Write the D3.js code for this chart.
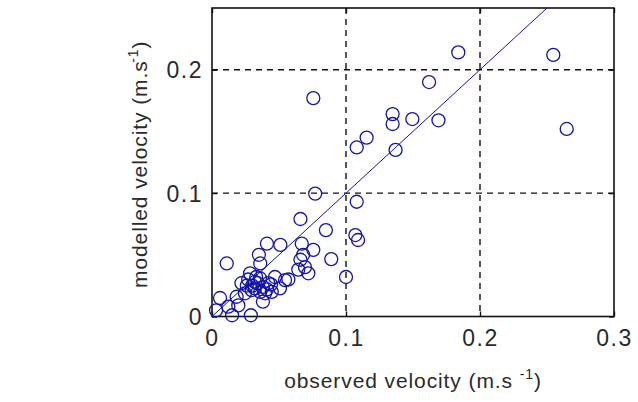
<!DOCTYPE html>
<html>
<head>
    <title>Observed vs modelled velocity</title>
    <script src="https://d3js.org/d3.v7.min.js"></script>
    <style>
        body {
            margin: 0;
            background-color: white;
        }
        svg text {
            font-family: "Liberation Sans", Arial, sans-serif;
            fill: #2a2a2a;
        }
    </style>
</head>
<body>
    <div id="chart"></div>
    <script>
        // observed (x) and modelled (y) velocities, m/s
        const observed = [
            0.0756, 0.077, 0.108, 0.1154, 0.1348, 0.1348, 0.137, 0.1838, 0.2547, 0.162,
            0.1495, 0.169, 0.2647,
            0.108, 0.066, 0.085, 0.107, 0.109, 0.089, 0.100, 0.067, 0.0756, 0.068,
            0.066, 0.0694, 0.0719, 0.0644, 0.057,
            0.011, 0.041, 0.051, 0.035, 0.036, 0.006, 0.015, 0.029, 0.003,
            0.0545, 0.047, 0.042, 0.0507, 0.0358, 0.0284, 0.032, 0.022, 0.0246, 0.0184,
            0.0396, 0.0296, 0.0446, 0.032, 0.026, 0.038, 0.0196, 0.0122,
            0.030, 0.034, 0.038, 0.027, 0.041, 0.044, 0.036, 0.033
        ];
        const modelled = [
            0.177, 0.0996, 0.137, 0.145, 0.164, 0.156, 0.135, 0.214, 0.212, 0.190,
            0.160, 0.159, 0.152,
            0.093, 0.079, 0.070, 0.066, 0.062, 0.0465, 0.032, 0.059, 0.054, 0.050,
            0.046, 0.040, 0.035, 0.038, 0.030,
            0.043, 0.059, 0.058, 0.050, 0.043, 0.015, 0.001, 0.001, 0.005,
            0.0295, 0.032, 0.027, 0.0228, 0.031, 0.035, 0.0228, 0.027, 0.0188, 0.016,
            0.0188, 0.0214, 0.020, 0.028, 0.025, 0.012, 0.009, 0.008,
            0.025, 0.027, 0.024, 0.030, 0.022, 0.026, 0.020, 0.032
        ];
        // fitted line y = slope * x + intercept
        const fitSlope = 1.0;
        const fitIntercept = 0;
        const fitRange = [0, 0.25];

        const xTicks = [0, 0.1, 0.2, 0.3];
        const yTicks = [0, 0.1, 0.2];
        const xTitle = "observed velocity (m.s ";
        const yTitle = "modelled velocity (m.s ";

        const width = 638, height = 402;
        const pLeft = 212, pRight = 614, pTop = 8, pBottom = 316.5;

        const svg = d3.select("#chart")
            .append("svg")
            .attr("width", width)
            .attr("height", height);

        const x = d3.scaleLinear().domain([0, 0.3]).range([pLeft, pRight]);
        const y = d3.scaleLinear().domain([0, 0.25]).range([pBottom, pTop]);

        svg.append("defs").append("clipPath").attr("id", "plot")
            .append("rect")
            .attr("x", pLeft).attr("y", pTop)
            .attr("width", pRight - pLeft).attr("height", pBottom - pTop);

        // dashed grid
        const grid = svg.append("g")
            .attr("stroke", "#111")
            .attr("stroke-width", 1.4)
            .attr("stroke-dasharray", "6,5");
        grid.selectAll(".gx")
            .data(xTicks.filter(d => d > 0 && d < 0.3))
            .enter().append("line")
            .attr("x1", d => x(d)).attr("x2", d => x(d))
            .attr("y1", pTop).attr("y2", pBottom);
        grid.selectAll(".gy")
            .data(yTicks.filter(d => d > 0))
            .enter().append("line")
            .attr("y1", d => y(d)).attr("y2", d => y(d))
            .attr("x1", pLeft).attr("x2", pRight);

        // axes with inward ticks
        const xAxis = svg.append("g")
            .attr("transform", `translate(0,${pBottom})`)
            .call(d3.axisBottom(x).tickValues(xTicks).tickSize(-5).tickPadding(13)
                .tickFormat(d => d === 0 ? "0" : d3.format(".1f")(d)));
        const xAxisTop = svg.append("g")
            .attr("transform", `translate(0,${pTop})`)
            .call(d3.axisTop(x).tickValues(xTicks).tickSize(-5).tickFormat(""));
        const yAxis = svg.append("g")
            .attr("transform", `translate(${pLeft},0)`)
            .call(d3.axisLeft(y).tickValues(yTicks).tickSize(-5).tickPadding(9)
                .tickFormat(d => d === 0 ? "0" : d3.format(".1f")(d)));
        const yAxisRight = svg.append("g")
            .attr("transform", `translate(${pRight},0)`)
            .call(d3.axisRight(y).tickValues(yTicks).tickSize(-5).tickFormat(""));

        [xAxis, xAxisTop, yAxis, yAxisRight].forEach(a => {
            a.select(".domain").remove();
            a.selectAll(".tick line").attr("stroke", "#111").attr("stroke-width", 1.4);
            a.selectAll(".tick text")
                .style("font-size", "23px")
                .style("letter-spacing", "1.5px")
                .attr("fill", "#333");
        });
        yAxis.selectAll(".tick text").attr("dy", "0.36em");

        // frame
        svg.append("rect")
            .attr("x", pLeft).attr("y", pTop)
            .attr("width", pRight - pLeft).attr("height", pBottom - pTop)
            .attr("fill", "none")
            .attr("stroke", "#111")
            .attr("stroke-width", 1.6);

        // points
        const points = observed.map((v, i) => ({ obs: v, mod: modelled[i] }));
        svg.append("g")
            .selectAll("circle")
            .data(points)
            .enter().append("circle")
            .attr("cx", d => x(d.obs))
            .attr("cy", d => y(d.mod))
            .attr("r", 6.5)
            .attr("fill", "none")
            .attr("stroke", "#1414a8")
            .attr("stroke-width", 1.3);

        // fitted line
        svg.append("line")
            .attr("clip-path", "url(#plot)")
            .attr("x1", x(fitRange[0])).attr("y1", y(fitSlope * fitRange[0] + fitIntercept))
            .attr("x2", x(fitRange[1])).attr("y2", y(fitSlope * fitRange[1] + fitIntercept))
            .attr("stroke", "#1414a8")
            .attr("stroke-width", 1);

        // axis titles
        const xt = svg.append("text")
            .attr("x", (pLeft + pRight) / 2)
            .attr("y", 388)
            .attr("text-anchor", "middle")
            .style("font-size", "21px")
            .style("letter-spacing", "0.9px");
        xt.append("tspan").text(xTitle);
        xt.append("tspan").text("-1").attr("dy", -9).style("font-size", "14px");
        xt.append("tspan").text(")").attr("dy", 9);

        const yt = svg.append("text")
            .attr("transform", `translate(147,${(pTop + pBottom) / 2 + 2}) rotate(-90)`)
            .attr("text-anchor", "middle")
            .style("font-size", "21px")
            .style("letter-spacing", "0.9px");
        yt.append("tspan").text(yTitle);
        yt.append("tspan").text("-1").attr("dy", -9).attr("dx", -9).style("font-size", "14px");
        yt.append("tspan").text(")").attr("dy", 9);
    </script>
</body>
</html>
